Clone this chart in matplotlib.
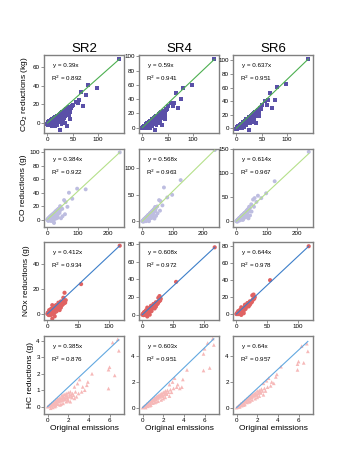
import matplotlib
matplotlib.use("Agg")
import matplotlib.pyplot as plt

plt.rcParams['font.family'] = ['Liberation Sans', 'DejaVu Sans']

scenarios = ["SR2", "SR4", "SR6"]

# ---------------- CO2 (kg) ----------------
co2_x = [142, 98, 80, 66, 76, 62, 56, 70, 60, 50, 46, 42, 44, 25, 39,
         0, 1, 2, 3, 4, 5, 6, 7, 8, 9, 10, 11, 12, 13, 14, 15, 16, 17, 18, 19,
         20, 21, 22, 23, 24, 25, 26, 27, 28, 29, 30, 31, 32, 33, 34, 35, 36, 37,
         38, 40, 41, 43, 45, 48, 30, 20, 15, 35, 28, 10,
         2, 4, 6, 8, 9, 11, 12, 13, 14, 16, 17, 18, 19, 21, 22, 24, 25, 26,
         27, 29, 31, 32, 33, 34, 36, 38, 39, 42, 44, 47, 5, 8, 23, 33, 37]
co2_sr2 = [68.6, 37.5, 41, 33, 30, 25, 23, 18, 21, 19, 16, 9, 4, -7, -3.5,
           -1, 0, -2, 1, -1, 2, -2, 1, 3, 0, 4, 1, -2, 5, 2, 6, 3, 0, 7, 4,
           8, 5, 1, 9, 6, 10, 3, 11, 7, 12, 9, 4, 13, 10, 14, 7, 12, 15,
           11, 16, 13, 17, 12, 18, 2, -2, -3, 0, -1, -3,
           1, 2, 1, 0, 3, 4, 3, 1, 5, 6, 4, 2, 7, 8, 6, 9, 5, 10,
           8, 10, 12, 8, 13, 11, 14, 15, 12, 16, 15, 17, -1, -2, 3, 5, 9]
co2_sr4 = [96, 60, 56, 49, 40, 35, 34, 27, 30, 31, 26, 14, 12, -3, 4,
           -1, 0, -1, 1.5, 0, 3, -1, 3, 5, 1, 6, 3, 0, 7, 4, 9, 5, 3, 10, 7,
           12, 8, 5, 13, 10, 15, 8, 16, 12, 17, 14, 10, 19, 15, 20, 12, 18, 22,
           16, 23, 19, 24, 18, 26, 7, 2, 0, 6, 4, -1,
           1.5, 3, 2, 2, 5, 6, 5, 4, 8, 9, 7, 6, 11, 12, 10, 14, 10, 15,
           13, 15, 17, 14, 19, 16, 21, 21, 18, 24, 22, 25, 0, 0, 7, 10, 15]
co2_sr6 = [102, 65, 61, 52, 42, 41, 40, 30, 34, 34, 30, 20, 18, -2, 8,
           -1, 0.5, -1, 2, 0, 3, 0, 4, 5, 2, 6.5, 4, 1, 8, 6, 9.5, 7, 5, 11, 8,
           13, 10, 7, 14, 11, 16, 10, 17, 14, 18, 16, 12, 20, 17, 22, 15, 20, 24,
           19, 25, 21, 27, 22, 29, 10, 5, 2, 9, 7, 0,
           2, 3, 3, 3, 6, 7, 7, 5, 9, 10, 9, 8, 12, 13, 12, 15, 12, 16,
           15, 17, 19, 16, 21, 19, 23, 24, 21, 26, 25, 28, 1, 1, 10, 13, 18]

# ---------------- CO (g) ----------------
co_x = [238, 126, 98, 71, 82, 55, 60, 66, 49, 22, 58, 50, 45, 40,
        0, 2, 3, 4, 5, 6, 7, 8, 9, 10, 11, 12, 13, 14, 15, 16, 17, 18, 19, 20,
        21, 22, 23, 24, 25, 26, 27, 28, 29, 30, 31, 32, 33, 34, 35, 36, 37, 38,
        40, 42, 44, 30, 20, 35, 15, 42,
        1, 3, 5, 7, 8, 10, 11, 12, 14, 15, 16, 18, 19, 21, 22, 24, 25, 26,
        28, 29, 31, 32, 34, 36, 38, 39, 41, 43, 10, 25]
co_sr2 = [100, 45, 46, 40, 31, 29, 26, 19, 16, -5, 8, 5, 2, 10,
          0, 1, -2, 2, 0, 3, -1, 4, 1, 5, 2, -2, 6, 3, 7, 4, 1, 8, 5, 9,
          6, 2, 10, 7, 11, 4, 12, 8, 13, 10, 5, 14, 11, 15, 8, 13, 16, 12,
          17, 14, 18, 2, -3, 3, -1, 20,
          0, 1, 2, 2, 1, 3, 4, 3, 5, 4, 6, 5, 7, 8, 7, 9, 8, 10,
          11, 9, 12, 10, 12, 14, 15, 13, 16, 15, -1, 1]
co_sr4 = [135, 78, 50, 64, 45, 40, 38, 30, 28, 0, 20, 15, 10, 5,
          0, 1, -1, 2, 1, 4, 0, 5, 3, 6, 4, 0, 8, 5, 9, 7, 4, 11, 8, 12,
          9, 6, 13, 11, 15, 9, 16, 13, 17, 15, 10, 19, 16, 20, 13, 18, 22, 17,
          24, 20, 25, 6, 1, 8, 2, 27,
          1, 2, 3, 4, 3, 5, 6, 6, 7, 7, 9, 9, 10, 11, 11, 13, 12, 14,
          15, 14, 17, 15, 18, 20, 21, 19, 23, 22, 1, 5]
co_sr6 = [144, 83, 58, 53, 48, 45, 48, 40, 35, 3, 30, 20, 12, 6,
          0, 1, -1, 3, 1, 4, 1, 5, 3, 7, 5, 2, 8, 6, 10, 8, 5, 12, 9, 13,
          10, 8, 14, 12, 16, 10, 17, 14, 18, 16, 12, 20, 17, 22, 15, 20, 24, 19,
          26, 22, 27, 8, 3, 10, 4, 30,
          1, 2, 3, 4, 4, 6, 7, 7, 8, 8, 10, 10, 11, 12, 13, 14, 14, 15,
          17, 16, 18, 17, 19, 21, 22, 22, 25, 26, 2, 7]

# ---------------- NOx (g) ----------------
nox_x = [118, 55, 28, 26, 30, 29, 8, 8, 12,
         0, 1, 2, 3, 4, 5, 6, 7, 8, 9, 10, 11, 12, 13, 14, 15, 16, 17, 18, 19,
         20, 21, 22, 23, 24, 25, 26, 27, 28, 5, 10, 15, 20, 3, 6, 14, 18, 22,
         1, 2, 3, 4, 5, 6, 7, 8, 9, 10, 11, 12, 13, 14, 16, 17, 18, 19, 20, 21,
         23, 24, 25, 4, 7, 12]
nox_sr2 = [55, 24, 17, 13, 11, 9, 7, -4, -2,
           0, 0.5, -1, 1.5, 0, 2.5, 1, 3, 1.5, 3.5, 2, 4.5, 3, 5, 3.5, 6, 4, 6.5, 5, 7.5,
           6, 8, 5, 8.5, 7, 9, 8, 10, 9, -1, 0, 2, 3, 3, 4, 7, 9, 10,
           1, 1, 0.5, 2, 1, 2.5, 1.5, 3, 2, 4, 3, 4.5, 3.5, 5.5, 5.5, 5, 7, 6, 7.5, 6.5,
           7, 9, 8, -1, -0.5, 1]
nox_sr4 = [76, 37, 21, 19, 18, 16, 8, -2, 0,
           0, 0.5, -0.5, 2, 1, 3, 2, 4, 3, 5, 4, 6, 5, 7, 6, 8.5, 7, 10, 8, 11,
           9.5, 12, 9, 13, 12, 14, 14, 15, 16, 0, 2, 4, 7, 3, 5, 10, 12, 14,
           1, 1.5, 1, 2.5, 2, 3.5, 3, 4.5, 4, 5.5, 5, 6.5, 6, 8, 9, 8, 10, 9, 11, 10,
           12, 13, 12.5, 0, 1, 3]
nox_sr6 = [80, 40, 23, 22, 20, 18, 8, -1, 1,
           0, 0.7, 0, 2, 1.5, 3.3, 3, 4.5, 4, 5.5, 5, 7, 6, 8, 7.5, 9.5, 8.5, 11, 9.5, 12,
           11, 13, 11, 14, 13.5, 15, 16, 17, 18, 0.5, 3, 6, 9, 3.5, 5, 11, 13, 15,
           1, 1.5, 1.5, 3, 2.5, 4, 3.5, 5, 4.5, 6, 6, 7, 7, 8.5, 10, 9, 11, 10, 12, 11.5,
           13, 14, 14, 0, 1.5, 4]

# ---------------- HC (g) ----------------
hc_x = [6.8, 6.3, 6.9, 6.0, 5.9, 6.5, 5.9, 4.3, 3.9, 3.1, 3.4, 3.8, 2.9, 3.6, 2.6,
        0, 0.1, 0.2, 0.3, 0.4, 0.5, 0.6, 0.7, 0.8, 0.9, 1.0, 1.1, 1.2, 1.3, 1.4,
        1.5, 1.6, 1.7, 1.8, 1.9, 2.0, 2.1, 2.2, 2.3, 2.4, 2.5, 2.7,
        0.5, 1.0, 1.5, 2.0, 0.8, 1.2, 1.8, 2.6, 0.3,
        0.15, 0.25, 0.35, 0.45, 0.55, 0.65, 0.75, 0.85, 0.95, 1.05, 1.15, 1.25, 1.35,
        1.45, 1.55, 1.65, 1.75, 1.85, 1.95, 2.15, 2.35, 2.8, 3.0, 3.3, 2.2, 1.3, 0.7]
hc_sr2 = [4.1, 3.9, 3.4, 2.4, 2.25, 1.9, 1.1, 2.0, 1.5, 1.65, 1.2, 1.3, 1.4, 1.0, 1.2,
          0, 0.02, 0.1, 0.05, 0.2, 0.1, 0.3, 0.15, 0.4, 0.2, 0.5, 0.3, 0.55, 0.35, 0.7,
          0.4, 0.75, 0.5, 0.8, 0.55, 0.85, 0.6, 0.9, 0.65, 0.8, 0.7, 0.9,
          -0.05, 0.15, 0.2, 0.35, 0.05, 0.1, 0.3, 0.5, -0.1,
          0.06, 0.05, 0.15, 0.12, 0.22, 0.2, 0.3, 0.28, 0.4, 0.35, 0.45, 0.4, 0.5,
          0.55, 0.6, 0.45, 0.65, 0.7, 0.45, 0.75, 0.55, 0.6, 0.8, 0.9, 0.3, 0.15, 0.0]
hc_sr4 = [5.4, 5.05, 4.9, 4.6, 4.2, 3.1, 2.9, 2.95, 2.2, 2.3, 1.8, 1.6, 2.0, 1.5, 1.8,
          0, 0.05, 0.12, 0.15, 0.28, 0.25, 0.4, 0.35, 0.55, 0.45, 0.65, 0.55, 0.8, 0.65, 0.9,
          0.75, 1.0, 0.85, 1.1, 0.95, 1.2, 1.0, 1.3, 1.1, 1.35, 1.2, 1.4,
          0.1, 0.35, 0.5, 0.7, 0.2, 0.4, 0.6, 0.9, 0.0,
          0.08, 0.12, 0.2, 0.25, 0.33, 0.38, 0.45, 0.5, 0.6, 0.6, 0.7, 0.72, 0.8,
          0.85, 0.9, 0.85, 1.0, 1.05, 0.9, 1.15, 1.05, 1.2, 1.5, 1.6, 0.8, 0.45, 0.15]
hc_sr6 = [5.0, 4.8, 4.4, 3.6, 3.4, 3.5, 2.95, 3.2, 2.6, 2.3, 2.0, 2.4, 2.1, 1.9, 1.9,
          0, 0.05, 0.13, 0.18, 0.3, 0.3, 0.42, 0.4, 0.55, 0.5, 0.68, 0.6, 0.82, 0.7, 0.95,
          0.8, 1.05, 0.95, 1.15, 1.0, 1.3, 1.1, 1.35, 1.2, 1.45, 1.3, 1.5,
          0.15, 0.4, 0.6, 0.8, 0.25, 0.45, 0.7, 1.0, 0.05,
          0.09, 0.14, 0.22, 0.28, 0.35, 0.4, 0.48, 0.55, 0.62, 0.65, 0.72, 0.78, 0.85,
          0.9, 0.95, 0.92, 1.05, 1.1, 1.0, 1.2, 1.15, 1.3, 1.6, 1.7, 0.9, 0.5, 0.2]

# fitted line slopes as drawn, equation texts and R2 values
line_slopes = [[0.483, 0.676, 0.72], [0.42, 0.567, 0.59],
               [0.466, 0.644, 0.678], [0.59, 0.78, 0.75]]
eq_texts = [["y = 0.39x", "y = 0.59x", "y = 0.637x"],
            ["y = 0.384x", "y = 0.568x", "y = 0.614x"],
            ["y = 0.412x", "y = 0.608x", "y = 0.644x"],
            ["y = 0.385x", "y = 0.603x", "y = 0.64x"]]
r2_vals = [["0.892", "0.941", "0.951"], ["0.922", "0.963", "0.967"],
           ["0.934", "0.972", "0.978"], ["0.876", "0.951", "0.957"]]
ylabels = ["CO$_2$ reductions (kg)", "CO reductions (g)",
           "NOx reductions (g)", "HC reductions (g)"]
xlabel = "Original emissions"

rows = [
    (co2_x, [co2_sr2, co2_sr4, co2_sr6]),
    (co_x, [co_sr2, co_sr4, co_sr6]),
    (nox_x, [nox_sr2, nox_sr4, nox_sr6]),
    (hc_x, [hc_sr2, hc_sr4, hc_sr6]),
]

# styling
markers = ['s', 'o', 'o', '^']
msizes = [8, 8, 9, 7]
mcolors = ['#5a50a8', '#bdbde0', '#e06262', '#f6b8b8']
lcolors = ['#4caf50', '#b5e08a', '#3d7fc9', '#62a8e0']
xlims = [(-6.5, 151), (-11, 252), (-5.5, 125), (-0.35, 7.4)]
xticks = [[0, 50, 100], [0, 100, 200], [0, 50, 100], [0, 2, 4, 6]]
ylims = [[(-10.7, 73), (-7.5, 102), (-7, 108)],
         [(-11, 105), (-11, 137), (-12, 150)],
         [(-5, 58), (-6, 82), (-7, 85)],
         [(-0.45, 4.3), (-0.5, 5.6), (-0.5, 5.6)]]
yticks = [[[0, 20, 40, 60], [0, 20, 40, 60, 80, 100], [0, 20, 40, 60, 80, 100]],
          [[0, 20, 40, 60, 80, 100], [0, 50, 100], [0, 50, 100, 150]],
          [[0, 20, 40], [0, 20, 40, 60, 80], [0, 20, 40, 60, 80]],
          [[0, 1, 2, 3, 4], [0, 2, 4], [0, 2, 4]]]

W, H = 349, 465
fig = plt.figure(figsize=(W / 100, H / 100), dpi=100)
col_left = [44, 139, 233]
row_top = [55, 149, 242, 336]
aw, ah = 80, 78
spine_c = '#808080'

for r, (xs, ys_list) in enumerate(rows):
    for c in range(3):
        ax = fig.add_axes([col_left[c] / W, 1 - (row_top[r] + ah) / H, aw / W, ah / H])
        ys = ys_list[c]
        ax.scatter(xs, ys, marker=markers[r], s=msizes[r], c=mcolors[r],
                   edgecolors='none', zorder=2)
        xm = max(xs)
        ax.plot([0, xm], [0, line_slopes[r][c] * xm], color=lcolors[r], lw=0.8, zorder=3)
        ax.set_xlim(*xlims[r])
        ax.set_ylim(*ylims[r][c])
        ax.set_xticks(xticks[r])
        ax.set_yticks(yticks[r][c])
        ax.tick_params(labelsize=4.5, length=2, width=0.6, color=spine_c, pad=1)
        for s in ax.spines.values():
            s.set_color(spine_c)
            s.set_linewidth(1.0)
        ax.text(0.11, 0.87, eq_texts[r][c], transform=ax.transAxes, fontsize=4.5,
                va='center', ha='left')
        ax.text(0.085, 0.70, "R$^2$ = " + r2_vals[r][c], transform=ax.transAxes,
                fontsize=4.5, va='center', ha='left')
        if r == 0:
            ax.set_title(scenarios[c], fontsize=9.5, pad=1.5)
        if c == 0:
            ax.set_ylabel(ylabels[r], fontsize=6, labelpad=2)
        if r == 3:
            ax.set_xlabel(xlabel, fontsize=6, labelpad=1.5)

fig.savefig("out.png", dpi=100)
